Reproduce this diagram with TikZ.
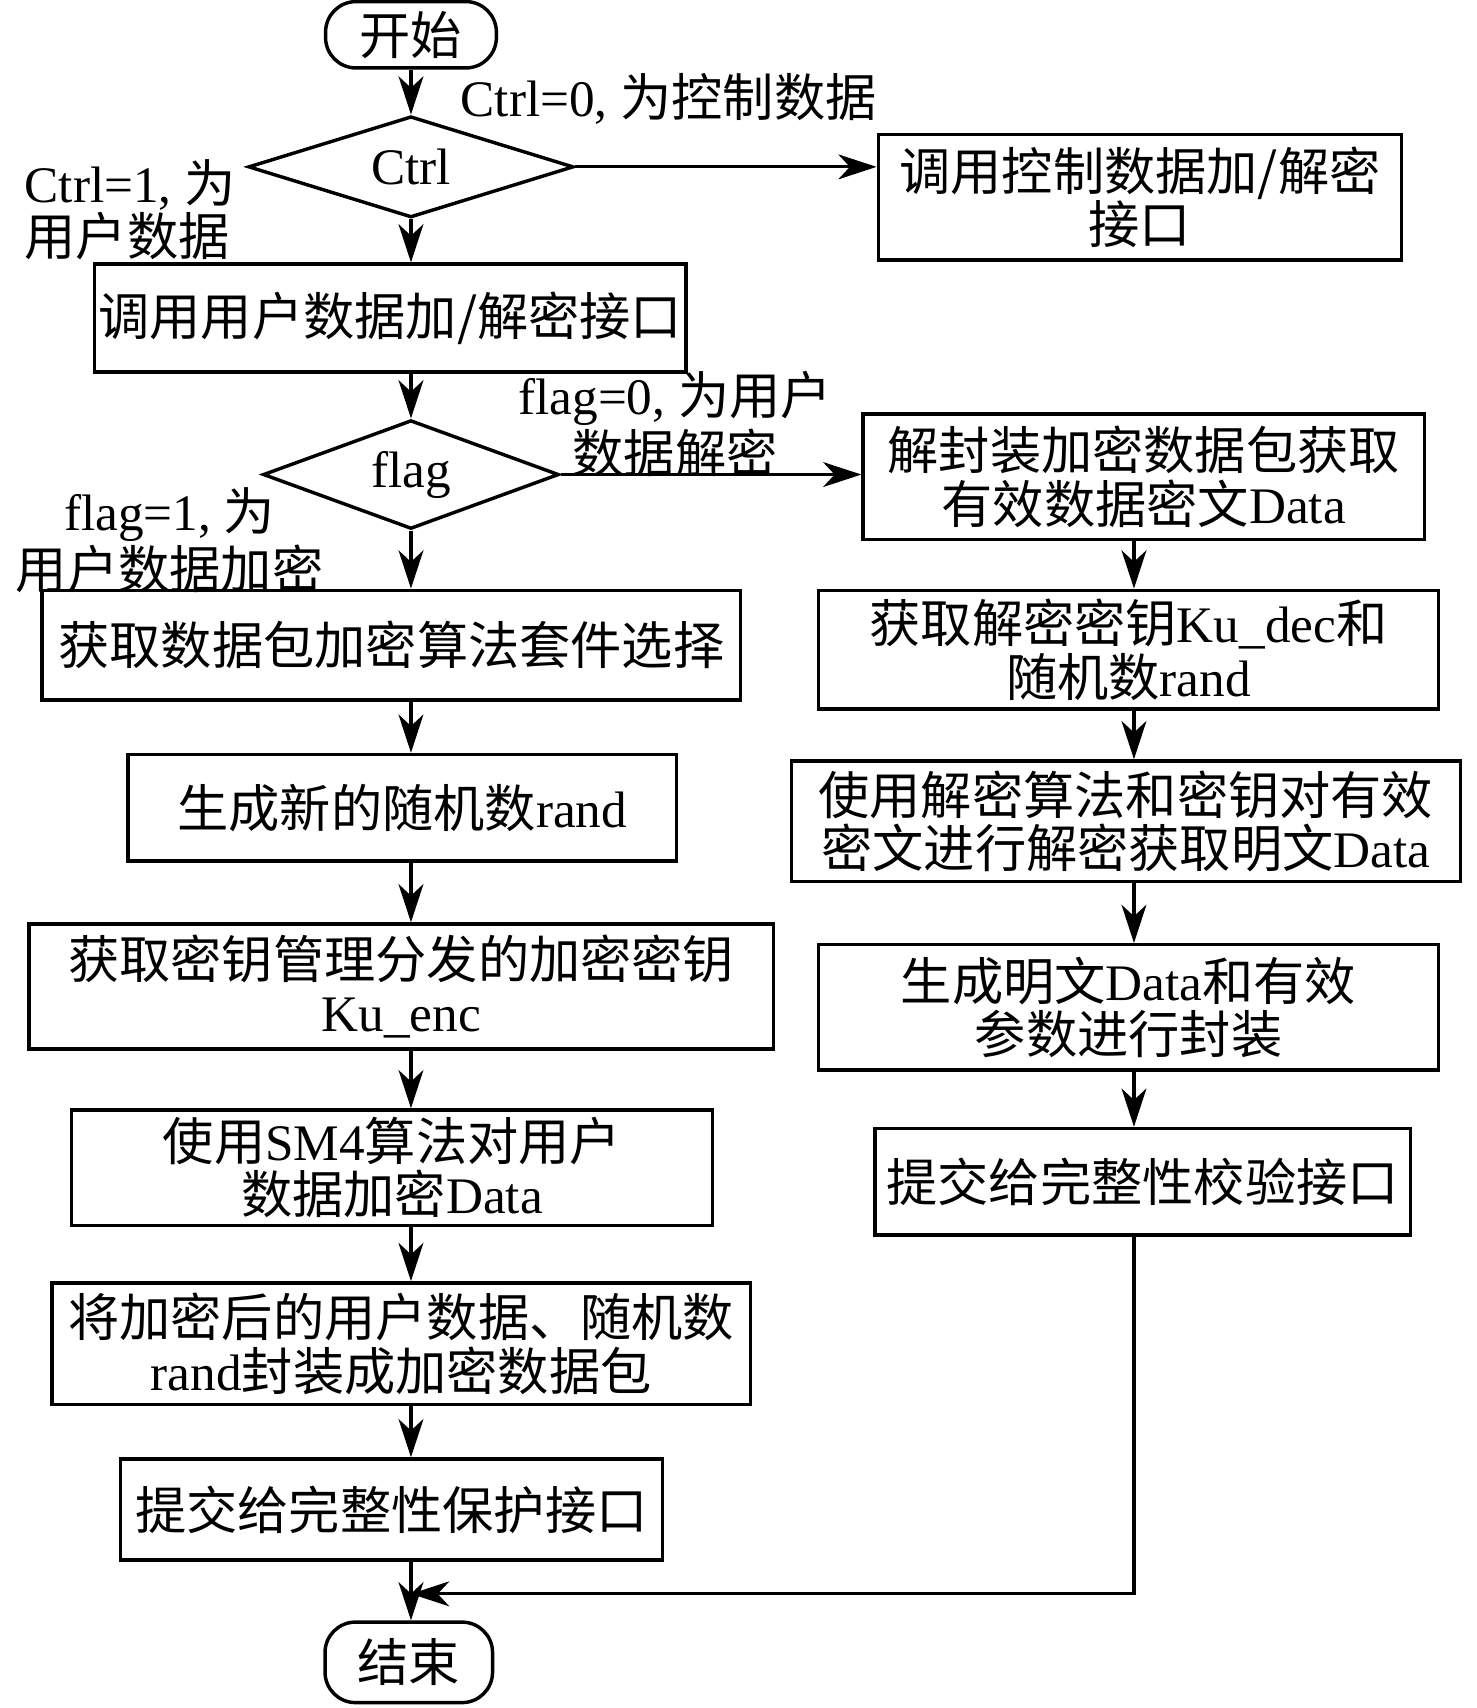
\documentclass[tikz,border=0pt]{standalone}
\usepackage{fontspec}
\setmainfont{Liberation Serif}
\newfontfamily\zhfont{Noto Sans CJK SC}
\newcommand\zh[1]{{\zhfont #1}}
\newcommand\fsz{\fontsize{13.4pt}{14pt}\selectfont}
\usetikzlibrary{shapes.geometric,arrows.meta}
\begin{document}
\begin{tikzpicture}[x=0.01cm,y=-0.01cm,
  box/.style={draw, line width=0.9pt, inner sep=0pt, align=center, font=\fsz},
  term/.style={draw, line width=0.9pt, rounded corners=0.28cm, inner sep=0pt, font=\fsz},
  dec/.style={diamond, aspect=3.2, draw, line width=0.9pt, inner sep=0pt, font=\fsz},
  arr/.style={-{Stealth[length=10pt,width=6.5pt,inset=3pt]}, line width=0.85pt},
  ln/.style={line width=0.85pt},
  lab/.style={font=\fsz, inner sep=0pt}]
\useasboundingbox (0,0) rectangle (1358,1571);
\coordinate (L) at (378,0);
\coordinate (R) at (1043,0);
% left column
\node[term, minimum width=15.7mm, minimum height=6.1mm] (start) at (378,32) {\zh{开始}};
\node[dec, minimum width=29.9mm, minimum height=9.3mm] (ctrl) at (378,153.5) {Ctrl};
\node[box, minimum width=54.4mm, minimum height=9.9mm] (uud) at (359,292.5) {\zh{调用用户数据加/解密接口}};
\node[dec, minimum width=27.2mm, minimum height=10.0mm] (flag) at (378,436.5) {flag};
\node[box, minimum width=64.2mm, minimum height=10.1mm] (suite) at (360,593.5) {\zh{获取数据包加密算法套件选择}};
\node[box, minimum width=50.4mm, minimum height=9.8mm] (rnd) at (370,743) {\zh{生成新的随机数}rand};
\node[box, minimum width=68.4mm, minimum height=11.5mm] (kenc) at (369,907.5) {\zh{获取密钥管理分发的加密密钥}\\Ku\_enc};
\node[box, minimum width=58.9mm, minimum height=10.6mm] (sm4) at (360.5,1074) {\zh{使用}SM4\zh{算法对用户}\\\zh{数据加密}Data};
\node[box, minimum width=64.2mm, minimum height=11.2mm] (pack) at (369,1236) {\zh{将加密后的用户数据、随机数}\\rand\zh{封装成加密数据包}};
\node[box, minimum width=49.8mm, minimum height=9.3mm] (prot) at (360,1388.5) {\zh{提交给完整性保护接口}};
\node[term, minimum width=15.4mm, minimum height=7.4mm] (endn) at (376,1529) {\zh{结束}};
% right column
\node[box, minimum width=48.1mm, minimum height=11.5mm] (cif) at (1048.5,181.5) {\zh{调用控制数据加/解密}\\\zh{接口}};
\node[box, minimum width=51.6mm, minimum height=11.5mm] (unp) at (1052,438.5) {\zh{解封装加密数据包获取}\\\zh{有效数据密文}Data};
\node[box, minimum width=57.0mm, minimum height=10.9mm] (kdec) at (1038,597.5) {\zh{获取解密密钥}Ku\_dec\zh{和}\\\zh{随机数}rand};
\node[box, minimum width=61.5mm, minimum height=11.1mm] (decr) at (1035.5,755.5) {\zh{使用解密算法和密钥对有效}\\\zh{密文进行解密获取明文}Data};
\node[box, minimum width=57.0mm, minimum height=11.5mm] (gen) at (1038,926.5) {\zh{生成明文}Data\zh{和有效}\\\zh{参数进行封装}};
\node[box, minimum width=49.2mm, minimum height=9.8mm] (ver) at (1051,1087) {\zh{提交给完整性校验接口}};
% labels
\node[lab, anchor=west] (l0) at (423,91) {Ctrl=0, \zh{为控制数据}};
\node[lab, align=left, anchor=west] (l1) at (22,193) {Ctrl=1, \zh{为}\\\zh{用户数据}};
\node[lab, align=center] (f0) at (621,390) {flag=0, \zh{为用户}\\\zh{数据解密}};
\node[lab, align=center] (f1) at (156,497) {flag=1, \zh{为}\\\zh{用户数据加密}};
% connectors left
\draw[arr] (start) -- (ctrl);
\draw[arr] (ctrl.east) -- (ctrl.east -| cif.west);
\draw[arr] (ctrl.south) -- (L |- uud.north);
\draw[arr] (L |- uud.south) -- (flag.north);
\draw[arr] (flag.east) -- (flag.east -| unp.west);
\draw[arr] (flag.south) -- (L |- suite.north);
\draw[arr] (L |- suite.south) -- (L |- rnd.north);
\draw[arr] (L |- rnd.south) -- (L |- kenc.north);
\draw[arr] (L |- kenc.south) -- (L |- sm4.north);
\draw[arr] (L |- sm4.south) -- (L |- pack.north);
\draw[arr] (L |- pack.south) -- (L |- prot.north);
\draw[arr] (L |- prot.south) -- (L |- endn.north);
% connectors right
\draw[arr] (R |- unp.south) -- (R |- kdec.north);
\draw[arr] (R |- kdec.south) -- (R |- decr.north);
\draw[arr] (R |- decr.south) -- (R |- gen.north);
\draw[arr] (R |- gen.south) -- (R |- ver.north);
\coordinate (J) at (378,1466);
\draw[arr] (R |- ver.south) |- (J);
\end{tikzpicture}
\end{document}
